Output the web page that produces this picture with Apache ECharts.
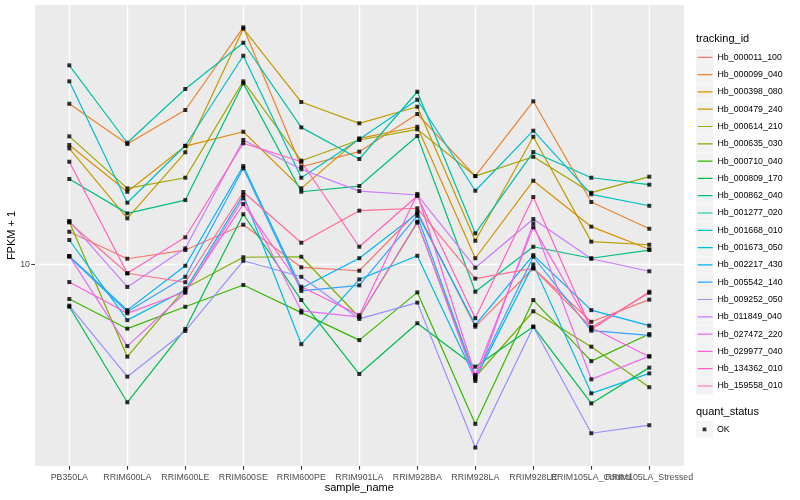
<!DOCTYPE html>
<html>
<head>
<meta charset="utf-8">
<script src="https://cdn.jsdelivr.net/npm/echarts@6/dist/echarts.min.js"></script>
<style>html,body{margin:0;padding:0;background:#fff}#chart{width:800px;height:500px}</style>
</head>
<body>
<div id="chart"></div>
<script>
// ---- data ----
const sampleNames = ['PB350LA','RRIM600LA','RRIM600LE','RRIM600SE','RRIM600PE','RRIM901LA','RRIM928BA','RRIM928LA','RRIM928LE','RRIM105LA_Control','RRIM105LA_Stressed'];
const trackingIds = ['Hb_000011_100','Hb_000099_040','Hb_000398_080','Hb_000479_240','Hb_000614_210','Hb_000635_030','Hb_000710_040','Hb_000809_170','Hb_000862_040','Hb_001277_020','Hb_001668_010','Hb_001673_050','Hb_002217_430','Hb_005542_140','Hb_009252_050','Hb_011849_040','Hb_027472_220','Hb_029977_040','Hb_134362_010','Hb_159558_010'];
// FPKM + 1 per sample
const hb_000011_100 = [12.09,10.35,10.88,12.59,9.85,9.66,13.57,7.00,9.80,7.20,8.18];
const hb_000099_040 = [25.26,20.03,24.37,39.22,17.58,19.17,23.81,16.66,25.62,14.35,12.30];
const hb_000398_080 = [19.92,15.22,19.80,21.50,15.52,20.70,22.13,10.38,16.22,12.45,10.93];
const hb_000479_240 = [19.54,13.06,19.10,38.91,25.51,22.57,24.83,11.48,20.89,11.42,11.22];
const hb_000614_210 = [20.94,15.52,16.50,28.74,18.20,20.50,21.80,16.66,18.62,15.14,16.60];
const hb_000635_030 = [12.81,5.89,8.73,10.44,10.47,7.39,12.74,5.24,7.65,6.24,4.94];
const hb_000710_040 = [8.21,6.92,7.85,8.90,7.59,6.48,8.53,4.00,8.16,5.74,6.71];
const hb_000809_170 = [7.85,4.53,6.91,13.37,8.16,5.33,7.14,5.56,7.00,4.50,5.53];
const hb_000862_040 = [16.38,13.44,14.51,28.41,15.22,15.73,20.98,8.56,11.09,10.38,10.88];
const hb_001277_020 = [31.51,20.18,27.50,35.89,22.05,18.38,27.07,11.98,19.13,16.50,15.85];
const hb_001668_010 = [28.74,14.29,19.84,33.30,16.50,20.58,25.85,15.31,21.63,15.00,14.04];
const hb_001673_050 = [11.53,7.27,8.65,14.94,6.33,9.19,10.53,5.18,10.02,4.77,5.35];
const hb_002217_430 = [10.51,7.70,9.94,17.65,8.73,10.38,13.44,7.07,10.57,7.70,7.04];
const hb_005542_140 = [10.47,7.63,9.33,17.42,8.60,8.88,13.26,5.24,10.47,6.84,6.66];
const hb_009252_050 = [7.90,5.25,6.83,10.23,9.33,7.32,8.04,3.49,7.00,3.79,3.97];
const hb_011849_040 = [12.86,8.80,10.99,20.50,17.32,15.28,14.94,9.83,13.01,10.35,9.63];
const hb_027472_220 = [10.51,6.26,8.51,14.66,7.67,7.41,12.81,5.12,12.69,5.17,5.91];
const hb_029977_040 = [9.05,7.56,8.56,14.18,8.81,7.48,15.03,5.30,12.40,6.97,5.89];
const hb_134362_010 = [18.09,9.52,11.71,20.12,18.09,11.09,14.85,7.35,14.77,6.89,8.56];
const hb_159558_010 = [12.76,9.52,9.04,15.20,11.35,13.65,13.84,9.23,9.79,6.97,8.51];
const seriesValues = [hb_000011_100,hb_000099_040,hb_000398_080,hb_000479_240,hb_000614_210,hb_000635_030,hb_000710_040,hb_000809_170,hb_000862_040,hb_001277_020,hb_001668_010,hb_001673_050,hb_002217_430,hb_005542_140,hb_009252_050,hb_011849_040,hb_027472_220,hb_029977_040,hb_134362_010,hb_159558_010];
const yTickLabels = [10];
const quantStatus = 'OK';

// ---- style ----
const palette = ['#F8766D','#EA8331','#D89000','#C09B00','#A3A500','#7CAE00','#39B600','#00BB4E','#00BF7D','#00C1A3','#00BFC4','#00BAE0','#00B0F6','#35A2FF','#9590FF','#C77CFF','#E76BF3','#FA62DB','#FF62BC','#FF6C91'];
const FONT = '"Liberation Sans", Arial, sans-serif';
const yMin = 3.139, yMax = 44.6;

const chart = echarts.init(document.getElementById('chart'), null, {renderer: 'canvas'});

const lineSeries = trackingIds.map((id, k) => ({
  name: id, type: 'line', xAxisIndex: 1, yAxisIndex: 1,
  data: seriesValues[k].map((v, i) => [i, v]),
  symbol: 'none', clip: false, animation: false,
  lineStyle: {color: palette[k], width: 1.2},
  itemStyle: {color: palette[k]},
  z: 2
}));
const pointData = [];
seriesValues.forEach(arr => arr.forEach((v, i) => pointData.push([i, v])));
const pointSeries = {
  name: quantStatus, type: 'scatter', xAxisIndex: 1, yAxisIndex: 1,
  data: pointData, symbol: 'rect', symbolSize: 4, clip: false, animation: false,
  itemStyle: {color: '#000'}, z: 5
};

const keyBox = 'path://M0 0h17v17H0z';
const okIcon = 'path://M0 0h0.01v0.01H0z M5.6 6.6h3.8v3.8H5.6z M14.99 16.99h0.01v0.01h-0.01z';
// labels split over two axes so that overlapping neighbours are not auto-hidden
const labelA = v => { const i = Math.round(v); return i % 2 === 0 ? (sampleNames[i] || '') : ''; };
const labelB = v => { const i = Math.round(v); return i % 2 === 1 ? (sampleNames[i] || '') : ''; };
const labelStyle = {margin: 7, fontFamily: FONT, fontSize: 8.8, color: '#4D4D4D', showMinLabel: true, showMaxLabel: true, hideOverlap: false};

const option = {
  animation: false,
  backgroundColor: '#fff',
  textStyle: {fontFamily: FONT},
  title: [
    {text: 'tracking_id', left: 696, top: 33, padding: 0, textStyle: {fontFamily: FONT, fontSize: 11, fontWeight: 'normal', color: '#000'}},
    {text: 'quant_status', left: 696, top: 406, padding: 0, textStyle: {fontFamily: FONT, fontSize: 11, fontWeight: 'normal', color: '#000'}}
  ],
  grid: [
    {left: 35, right: 116, top: 5, bottom: 34, show: true, backgroundColor: '#EBEBEB', borderWidth: 0, containLabel: false, outerBoundsMode: 'none'},
    {left: 69.3, right: 150.7, top: 5, bottom: 34, show: false, containLabel: false, outerBoundsMode: 'none'}
  ],
  xAxis: [
    {gridIndex: 0, type: 'value', show: false, min: 0, max: 1},
    {gridIndex: 1, type: 'value', position: 'bottom', min: 0, max: sampleNames.length - 1, interval: 1,
     name: 'sample_name', nameLocation: 'middle', nameGap: 16, nameMoveOverlap: false,
     nameTextStyle: {fontFamily: FONT, fontSize: 11, color: '#000'},
     axisLine: {show: false},
     axisTick: {show: true, length: 3.7, lineStyle: {color: '#333333', width: 1.1}},
     axisLabel: Object.assign({formatter: labelA}, labelStyle),
     splitLine: {show: true, lineStyle: {color: '#FFFFFF', width: 1.4}}},
    {gridIndex: 1, type: 'value', position: 'bottom', offset: 0, min: 0, max: sampleNames.length - 1, interval: 1,
     axisLine: {show: false}, axisTick: {show: false}, splitLine: {show: false},
     axisLabel: Object.assign({formatter: labelB}, labelStyle)}
  ],
  yAxis: [
    {gridIndex: 0, type: 'log', logBase: 10, min: yMin, max: yMax,
     name: 'FPKM + 1', nameLocation: 'middle', nameGap: 18, nameRotate: 90, nameMoveOverlap: false,
     nameTextStyle: {fontFamily: FONT, fontSize: 11, color: '#000'},
     axisLine: {show: false},
     axisTick: {show: true, length: 3.7, lineStyle: {color: '#333333', width: 1.1}},
     axisLabel: {margin: 5, fontFamily: FONT, fontSize: 8.8, color: '#4D4D4D', showMinLabel: false, showMaxLabel: false,
       formatter: v => yTickLabels.some(t => Math.abs(t - v) < 1e-6) ? String(Math.round(v)) : ''},
     splitLine: {show: true, showMinLine: false, showMaxLine: false, lineStyle: {color: '#FFFFFF', width: 1.4}}},
    {gridIndex: 1, type: 'log', logBase: 10, min: yMin, max: yMax, show: false}
  ],
  legend: [
    {orient: 'vertical', left: 696, top: 48.8, padding: 0, itemGap: 0.3, itemWidth: 17, itemHeight: 17,
     icon: keyBox, data: trackingIds, itemStyle: {color: '#F2F2F2'}, formatter: () => '', selectedMode: false,
     textStyle: {fontSize: 1, color: 'rgba(0,0,0,0)'}},
    {orient: 'vertical', left: 697.5, top: 48.8, padding: 0, itemGap: 0.3, itemWidth: 15, itemHeight: 17,
     data: trackingIds.map((id, k) => ({name: id, icon: 'path://M0 0h0.01v0.01H0z M0 7.9h15v1.2H0z M14.99 16.99h0.01v0.01h-0.01z', itemStyle: {color: palette[k]}})),
     selectedMode: false,
     textStyle: {fontFamily: FONT, fontSize: 8.8, color: '#000'}},
    {orient: 'vertical', left: 696, top: 420.8, padding: 0, itemWidth: 17, itemHeight: 17,
     icon: keyBox, data: [quantStatus], itemStyle: {color: '#F2F2F2'}, formatter: () => '', selectedMode: false,
     textStyle: {fontSize: 1, color: 'rgba(0,0,0,0)'}},
    {orient: 'vertical', left: 697, top: 420.8, padding: 0, itemWidth: 15, itemHeight: 17,
     data: [{name: quantStatus, icon: okIcon, itemStyle: {color: '#000'}}], selectedMode: false,
     textStyle: {fontFamily: FONT, fontSize: 8.8, color: '#000'}}
  ],
  series: lineSeries.concat([pointSeries])
};
chart.setOption(option);
</script>
</body>
</html>
